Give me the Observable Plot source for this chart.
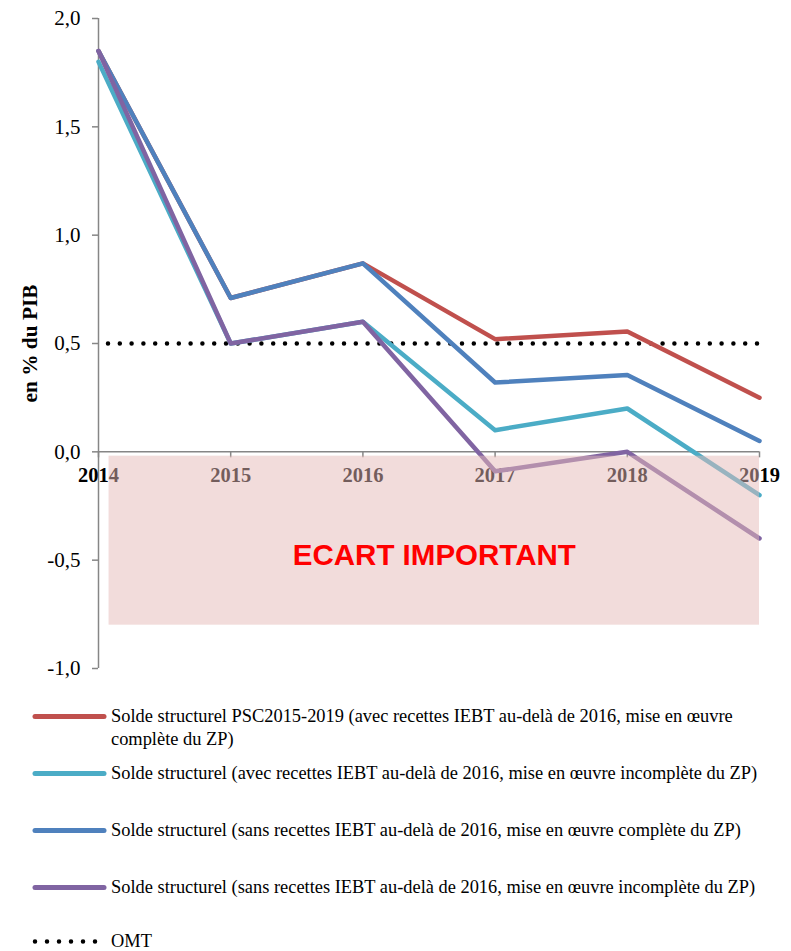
<!DOCTYPE html>
<html><head><meta charset="utf-8">
<script src="https://cdn.jsdelivr.net/npm/d3@7"></script>
<script src="https://cdn.jsdelivr.net/npm/@observablehq/plot@0.6"></script>
<style>
body{margin:0;background:#fff;}
#wrap{position:relative;width:791px;height:951px;overflow:hidden;}
.leg{position:absolute;left:0;width:791px;font-family:"Liberation Serif","Times New Roman",serif;font-size:18.4px;color:#000;line-height:23px;}
.sw{position:absolute;left:30px;top:0;}
.lt{position:absolute;left:111px;top:0;white-space:nowrap;}
</style></head><body><div id="wrap"><div id="chart"></div><div id="legend"></div></div>
<script>
const years = [2014, 2015, 2016, 2017, 2018, 2019];
const seriesNames = [
  "Solde structurel PSC2015-2019 (avec recettes IEBT au-delà de 2016, mise en œuvre complète du ZP)",
  "Solde structurel (avec recettes IEBT au-delà de 2016, mise en œuvre incomplète du ZP)",
  "Solde structurel (sans recettes IEBT au-delà de 2016, mise en œuvre complète du ZP)",
  "Solde structurel (sans recettes IEBT au-delà de 2016, mise en œuvre incomplète du ZP)"
];
const pscValues = [1.85, 0.71, 0.87, 0.52, 0.555, 0.25];
const avecIncompleteValues = [1.80, 0.50, 0.60, 0.10, 0.20, -0.20];
const sansCompleteValues = [1.85, 0.71, 0.87, 0.32, 0.355, 0.05];
const sansIncompleteValues = [1.85, 0.50, 0.60, -0.09, 0.00, -0.40];
const omtLabel = "OMT";
const omtValue = [0.5];
const yTicks = [-1, -0.5, 0, 0.5, 1, 1.5, 2];
const zoneX = [2014.08, 2019];
const zoneY = [-0.8, -0.02];
const zoneLabel = "ECART IMPORTANT";
const zoneLabelPos = [2016.54, -0.48];
const yLabel = "en % du PIB";
const colors = ["#c0504d", "#4bacc6", "#4f81bd", "#8064a2"];

const allValues = [pscValues, avecIncompleteValues, sansCompleteValues, sansIncompleteValues];
const rows = seriesNames.flatMap((name, i) => years.map((yr, j) => ({series: name, year: yr, value: allValues[i][j]})));
const fmt = d => d.toFixed(1).replace(".", ",");
const serif = "'Liberation Serif', 'Times New Roman', serif";

const chart = Plot.plot({
  width: 791, height: 688,
  marginLeft: 98, marginRight: 32, marginTop: 18, marginBottom: 20,
  x: {domain: [years[0], years[years.length - 1]], axis: null},
  y: {domain: [yTicks[0], yTicks[yTicks.length - 1]], axis: null},
  color: {domain: seriesNames, range: colors},
  style: {fontFamily: serif, background: "white", overflow: "visible"},
  marks: [
    Plot.axisY(yTicks, {tickSize: 6, tickPadding: 12, tickFormat: fmt, fontSize: 21, stroke: "#868686", fill: "black", label: null, strokeWidth: 1.5}),
    Plot.ruleX([years[0]], {y1: yTicks[0], y2: yTicks[yTicks.length - 1], stroke: "#868686", strokeWidth: 1.5}),
    Plot.ruleY([0], {x1: years[0], x2: years[years.length - 1], stroke: "#868686", strokeWidth: 1.5}),
    Plot.ruleX(years, {x: d => d, y1: 0, y2: 0, insetBottom: -6, stroke: "#868686", strokeWidth: 1.5}),
    Plot.text(years, {x: d => d, y: 0, dy: 24, text: d => String(d), fontWeight: "bold", fontSize: 20.5, fill: "black"}),
    Plot.ruleY(omtValue, {x1: years[0], x2: years[years.length - 1], stroke: "black", strokeWidth: 4.5, strokeDasharray: "0,11.8", strokeLinecap: "round", strokeDashoffset: -10}),
    Plot.line(rows, {x: "year", y: "value", z: "series", stroke: "series", strokeWidth: 4.5}),
    Plot.rect([0], {x1: zoneX[0], x2: zoneX[1], y1: zoneY[0], y2: zoneY[1], fill: "rgb(229,185,183)", fillOpacity: 0.5}),
    Plot.text([zoneLabel], {x: zoneLabelPos[0], y: zoneLabelPos[1], text: d => d, fontFamily: "'Liberation Sans', Arial, sans-serif", fontWeight: "bold", fontSize: 29.5, fill: "#ff0000"}),
    Plot.text([yLabel], {frameAnchor: "left", dx: -68, rotate: -90, textAnchor: "middle", text: d => d, fontWeight: "bold", fontSize: 21.3, fill: "black"})
  ]
});
document.getElementById("chart").appendChild(chart);

// Legend
const legend = document.getElementById("legend");
const legendTops = [705, 761.5, 818.5, 875.5];
seriesNames.forEach((name, i) => {
  const div = document.createElement("div");
  div.className = "leg";
  div.style.top = legendTops[i] + "px";
  let label = name;
  if (i === 0) label = name.replace(" complète du ZP)", "<br>complète du ZP)");
  div.innerHTML = `<svg class="sw" width="80" height="23"><line x1="5" x2="74" y1="11.5" y2="11.5" stroke="${colors[i]}" stroke-width="5" stroke-linecap="round"/></svg><span class="lt">${label}</span>`;
  legend.appendChild(div);
});
const omtDiv = document.createElement("div");
omtDiv.className = "leg";
omtDiv.style.top = "929.5px";
omtDiv.innerHTML = `<svg class="sw" width="80" height="23"><line x1="5" x2="68" y1="11.5" y2="11.5" stroke="black" stroke-width="4.5" stroke-dasharray="0,12" stroke-linecap="round"/></svg><span class="lt">${omtLabel}</span>`;
legend.appendChild(omtDiv);
</script></body></html>
